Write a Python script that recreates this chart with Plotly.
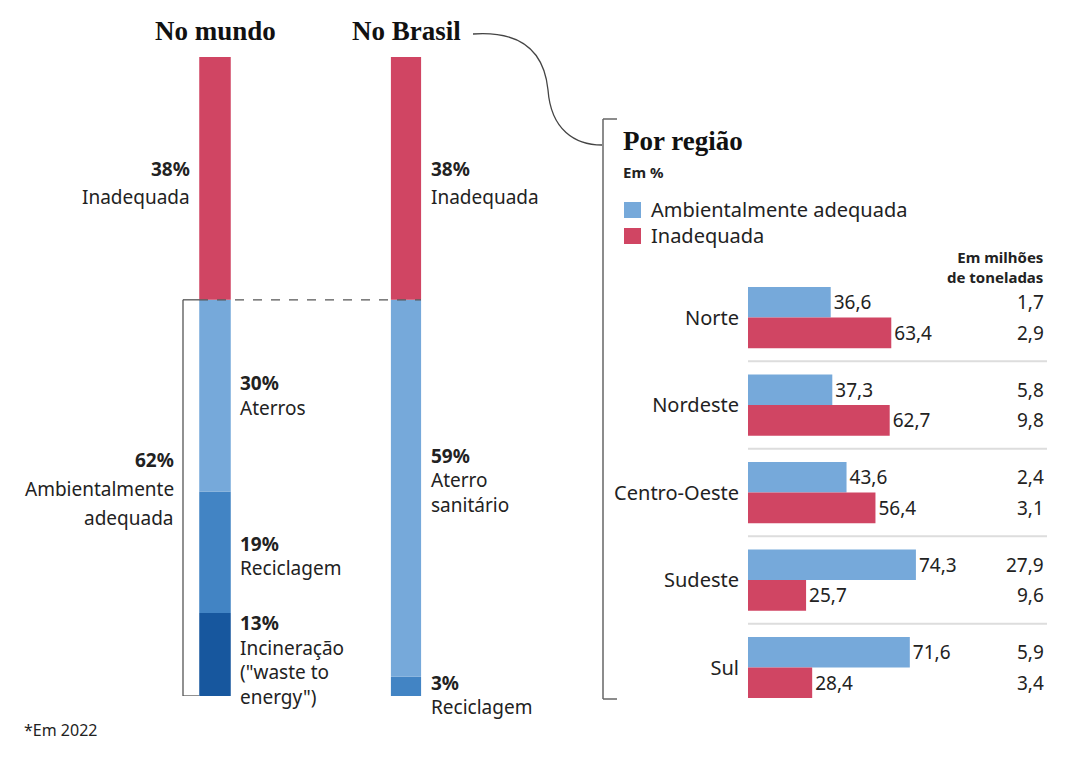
import plotly.graph_objects as go

# dados
cat_mundo = "No mundo"
cat_brasil = "No Brasil"
mundo_seg = ["Incineração", "Reciclagem", "Aterros", "Inadequada"]
mundo_val = [13, 19, 30, 38]
mundo_txt = [["13%", "Incineração", "(\"waste to", "energy\")"], ["19%", "Reciclagem"],
             ["30%", "Aterros"], ["38%", "Inadequada"]]
brasil_seg = ["Reciclagem", "Aterro sanitário", "Inadequada"]
brasil_val = [3, 59, 38]
brasil_txt = [["3%", "Reciclagem"], ["59%", "Aterro", "sanitário"], ["38%", "Inadequada"]]

regioes = ["Norte", "Nordeste", "Centro-Oeste", "Sudeste", "Sul"]
adequada = [36.6, 37.3, 43.6, 74.3, 71.6]
inadequada = [63.4, 62.7, 56.4, 25.7, 28.4]
adequada_mi_t = [1.7, 5.8, 2.4, 27.9, 5.9]
inadequada_mi_t = [2.9, 9.8, 3.1, 9.6, 3.4]

W, H = 1080, 762
def px(x): return x / W
def py(y): return 1 - y / H
def br(v): return f"{v:.1f}".replace(".", ",")

RED = "#D04563"
LBLUE = "#76A9DA"
MBLUE = "#4284C4"
DBLUE = "#17579E"
TXT = "#222222"
FONT = "Noto Sans"
SERIF = "Liberation Serif"

mundo_cor = [DBLUE, MBLUE, LBLUE, RED]
brasil_cor = [MBLUE, LBLUE, RED]

fig = go.Figure()

# barras empilhadas (esquerda)
base = 0
for seg, v, c in zip(mundo_seg, mundo_val, mundo_cor):
    fig.add_trace(go.Bar(x=[cat_mundo], y=[v], base=[base], width=0.165, marker=dict(color=c, line_width=0),
                         xaxis="x2", yaxis="y2", name=seg, showlegend=False))
    base += v
base = 0
for seg, v, c in zip(brasil_seg, brasil_val, brasil_cor):
    fig.add_trace(go.Bar(x=[cat_brasil], y=[v], base=[base], width=0.158, marker=dict(color=c, line_width=0),
                         xaxis="x2", yaxis="y2", name=seg, showlegend=False))
    base += v

# barras por região
fig.add_trace(go.Bar(y=regioes, x=adequada, orientation="h", offset=-0.35, width=0.35,
                     marker=dict(color=LBLUE, line_width=0), name="Ambientalmente adequada",
                     text=[br(v) for v in adequada], textposition="outside", constraintext="none",
                     textfont=dict(size=19, color=TXT), cliponaxis=False, showlegend=False))
fig.add_trace(go.Bar(y=regioes, x=inadequada, orientation="h", offset=0, width=0.35,
                     marker=dict(color=RED, line_width=0), name="Inadequada",
                     text=[br(v) for v in inadequada], textposition="outside", constraintext="none",
                     textfont=dict(size=19, color=TXT), cliponaxis=False, showlegend=False))

ann = []
shapes = []

# títulos das colunas
for c in [cat_mundo, cat_brasil]:
    ann.append(dict(xref="x2", yref="paper", x=c, y=py(31), yanchor="middle", text=f"<b>{c}</b>",
                    showarrow=False, font=dict(family=SERIF, size=27, color="#111")))


def bloco(lines, xref, x, yref, y, side, xshift, sp, off):
    # uma anotação por linha, para controlar o entrelinhamento
    n = len(lines)
    for k, t in enumerate(lines):
        ann.append(dict(xref=xref, yref=yref, x=x, y=y, showarrow=False,
                        text=f"<b>{t}</b>" if k == 0 else t,
                        xanchor=side, yanchor="middle", xshift=xshift,
                        yshift=((n - 1) / 2 - k) * sp + off, font=dict(size=19, color=TXT)))


# rótulos das barras empilhadas
sp_m = [24.7, 24, 25, 28]
off_m = [-5.5, -3.5, 0, -5]
base = 0
for i, (v, t) in enumerate(zip(mundo_val, mundo_txt)):
    right = i == 3
    bloco(t, "x2", cat_mundo, "y2", base + v / 2, "right" if right else "left",
          -23 if right else 23, sp_m[i], off_m[i])
    base += v
sp_b = [24, 24.5, 28]
off_b = [-8.5, 8, -5]
base = 0
for i, (v, t) in enumerate(zip(brasil_val, brasil_txt)):
    bloco(t, "x2", cat_brasil, "y2", base + v / 2, "left", 23, sp_b[i], off_b[i])
    base += v

adeq_mundo = sum(mundo_val[:3])
bloco([f"{adeq_mundo}%", "Ambientalmente", "adequada"], "paper", px(176), "y2", adeq_mundo / 2,
      "right", 0, 29, 9)
ann.append(dict(xref="paper", yref="paper", x=px(22), y=py(730), xanchor="left", yanchor="middle",
                showarrow=False, text="*Em 2022", font=dict(size=16, color=TXT)))

# colchete e linha tracejada
line = dict(color="#555", width=1.3)
shapes += [
    dict(type="line", xref="paper", yref="y2", x0=px(183), x1=px(183), y0=0, y1=adeq_mundo, line=line),
    dict(type="line", xref="paper", yref="y2", x0=px(183), x1=px(199), y0=0, y1=0, line=line),
    dict(type="line", xref="paper", yref="y2", x0=px(183), x1=px(199), y0=adeq_mundo, y1=adeq_mundo, line=line),
    dict(type="line", xref="paper", yref="y2", x0=px(199), x1=px(421), y0=adeq_mundo, y1=adeq_mundo,
         line=dict(color="#555", width=1.3, dash="dash"), layer="above"),
]

# conector curvo
pts = [(473, 34), (530, 30), (545, 60), (548, 90), (551, 130), (575, 145), (602, 145)]
p = [f"{px(x):.5f},{py(y):.5f}" for x, y in pts]
shapes.append(dict(type="path", xref="paper", yref="paper",
                   path=f"M {p[0]} C {p[1]} {p[2]} {p[3]} C {p[4]} {p[5]} {p[6]}",
                   line=dict(color="#444", width=1.3)))

# colchete direito
gl = dict(color="#666", width=1.5)
shapes += [
    dict(type="line", xref="paper", yref="paper", x0=px(603), x1=px(603), y0=py(119), y1=py(699), line=gl),
    dict(type="line", xref="paper", yref="paper", x0=px(603), x1=px(617), y0=py(119), y1=py(119), line=gl),
    dict(type="line", xref="paper", yref="paper", x0=px(603), x1=px(617), y0=py(699), y1=py(699), line=gl),
]

# painel por região
ann.append(dict(xref="paper", yref="paper", x=px(621), y=py(141), xanchor="left", yanchor="middle",
                showarrow=False, text="<b>Por região</b>", font=dict(family=SERIF, size=27, color="#111")))
ann.append(dict(xref="paper", yref="paper", x=px(621), y=py(172), xanchor="left", yanchor="middle",
                showarrow=False, text="<b>Em %</b>", font=dict(size=15, color=TXT)))
for i, (nm, c) in enumerate([("Ambientalmente adequada", LBLUE), ("Inadequada", RED)]):
    yc = 210 + i * 26
    shapes.append(dict(type="rect", xref="paper", yref="paper", x0=px(624), x1=px(641),
                       y0=py(yc - 8), y1=py(yc + 8), fillcolor=c, line_width=0))
    ann.append(dict(xref="paper", yref="paper", x=px(649), y=py(yc), xanchor="left", yanchor="middle",
                    showarrow=False, text=nm, font=dict(size=20, color=TXT)))
ann.append(dict(xref="paper", yref="paper", x=px(1045), y=py(267), xanchor="right", yanchor="middle",
                align="right", showarrow=False, text="<b>Em milhões<br>de toneladas</b>",
                font=dict(size=15, color=TXT)))
for i in range(len(regioes)):
    ann.append(dict(xref="paper", yref="y", x=px(1046), y=i - 0.175, xanchor="right", yanchor="middle",
                    showarrow=False, text=br(adequada_mi_t[i]), font=dict(size=19, color=TXT)))
    ann.append(dict(xref="paper", yref="y", x=px(1046), y=i + 0.175, xanchor="right", yanchor="middle",
                    showarrow=False, text=br(inadequada_mi_t[i]), font=dict(size=19, color=TXT)))
for i in range(len(regioes) - 1):
    shapes.append(dict(type="line", xref="x domain", yref="y", x0=0, x1=1, y0=i + 0.5, y1=i + 0.5,
                       line=dict(color="#DDDDDD", width=2), layer="below"))

fig.update_layout(
    width=W, height=H, margin=dict(l=0, r=0, t=0, b=0),
    paper_bgcolor="white", plot_bgcolor="white",
    barmode="overlay", showlegend=False,
    font=dict(family=FONT, color=TXT),
    xaxis=dict(domain=[px(748), px(1047)], range=[0, 299 / 2.26], visible=False),
    yaxis=dict(domain=[py(711.25), py(273.75)], type="category", categoryarray=regioes,
               range=[len(regioes) - 0.5, -0.5], showgrid=False, zeroline=False, showline=False,
               ticks="", ticklabelstandoff=8, tickfont=dict(size=20, color=TXT)),
    xaxis2=dict(domain=[px(119.5), px(501.5)], type="category", categoryarray=[cat_mundo, cat_brasil],
                range=[-0.5, 1.5], visible=False, anchor="y2"),
    yaxis2=dict(domain=[py(696), py(57)], range=[0, 100], visible=False, anchor="x2"),
    annotations=ann, shapes=shapes,
)

fig.write_html("out.html", config={"displayModeBar": False},
               post_script="document.body.style.margin='0';")
